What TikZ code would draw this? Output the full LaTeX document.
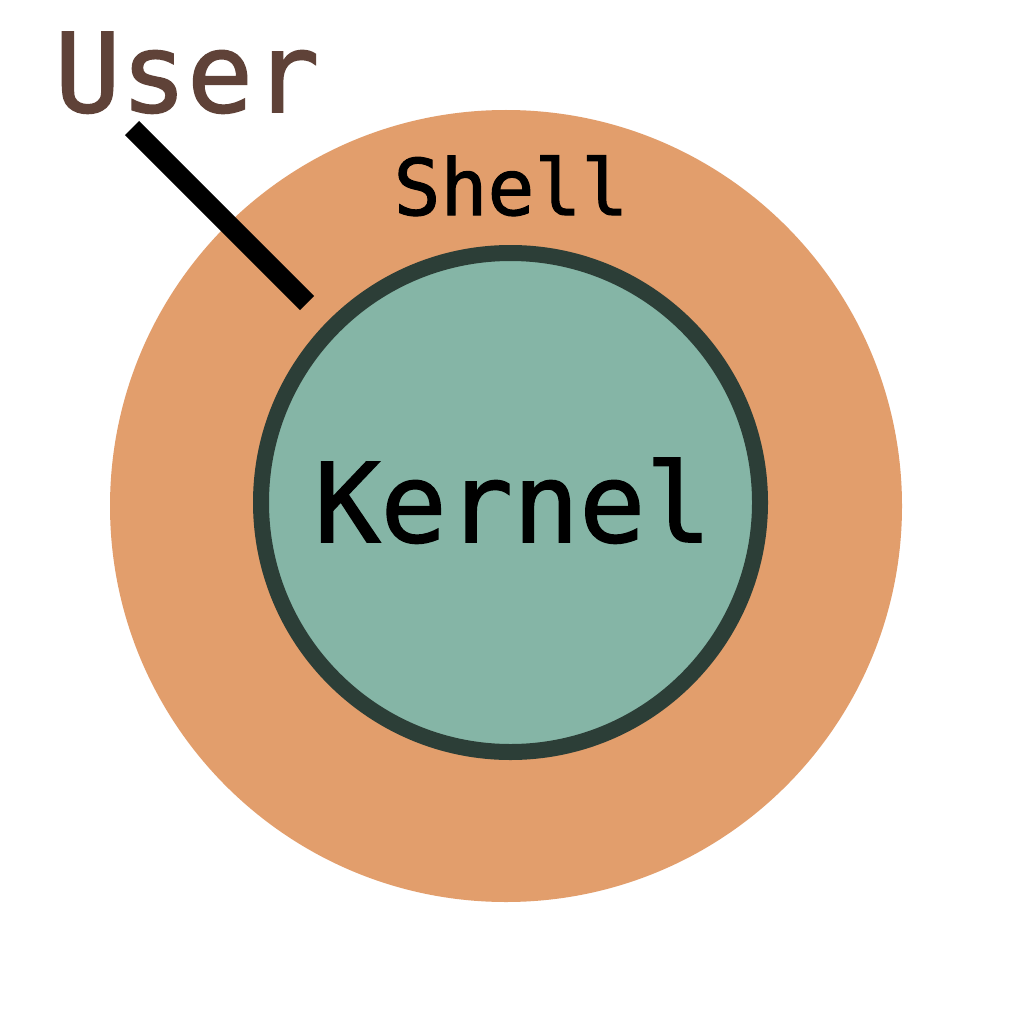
\documentclass[tikz,border=0pt]{standalone}
\usepackage{fontspec}
\newfontfamily\lblfont[FakeBold=1.4]{DejaVu Sans Mono}
\definecolor{shellc}{HTML}{E29E6C}
\definecolor{kernelc}{HTML}{85B5A6}
\definecolor{kborder}{HTML}{2C3E37}
\definecolor{userc}{HTML}{5F4238}
\begin{document}
\begin{tikzpicture}[x=1pt,y=-1pt,
  ring/.style={circle,inner sep=0pt,outer sep=0pt},
  lbl/.style={inner sep=0pt,anchor=base}]
\useasboundingbox[fill=white] (0,0) rectangle (1024,1024);
\node[ring,fill=shellc,minimum size=792pt] (shell) at (506,506) {};
\node[ring,fill=kernelc,draw=kborder,line width=16pt,minimum size=499pt] (kernel) at (510.5,502.5) {};
\node[lbl,font=\lblfont\fontsize{110}{110}\selectfont] (klabel) at (513,542) {Kernel};
\node[lbl,font=\lblfont\fontsize{78}{78}\selectfont] (slabel) at (511,215) {Shell};
\node[lbl,font=\lblfont\fontsize{110}{110}\selectfont,text=userc] (user) at (187,112) {User};
\coordinate (ustart) at (132,128);
\coordinate (uend) at (307,303);
\draw[line width=20pt,black] (ustart) -- (uend);
\end{tikzpicture}
\end{document}
